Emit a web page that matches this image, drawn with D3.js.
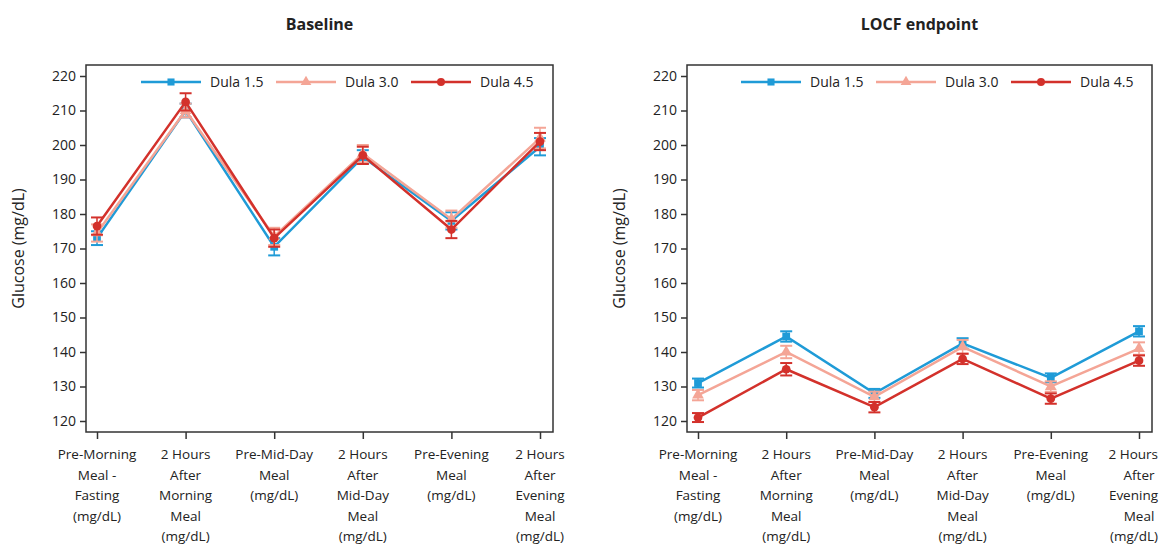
<!DOCTYPE html>
<html>
<head>
<meta charset="utf-8">
<script src="https://cdn.jsdelivr.net/npm/d3@7"></script>
<style>
  body { margin: 0; background: #fff; }
  text { font-family: "Open Sans", "Noto Sans", sans-serif; fill: #222; }
</style>
</head>
<body>
<div id="chart"></div>
<script>
// categories on the x axis
var categories = [
    "Pre-Morning|Meal -|Fasting|(mg/dL)",
    "2 Hours|After|Morning|Meal|(mg/dL)",
    "Pre-Mid-Day|Meal|(mg/dL)",
    "2 Hours|After|Mid-Day|Meal|(mg/dL)",
    "Pre-Evening|Meal|(mg/dL)",
    "2 Hours|After|Evening|Meal|(mg/dL)"
];
var yTicks = [120, 130, 140, 150, 160, 170, 180, 190, 200, 210, 220];
var seriesNames = ["Dula 1.5", "Dula 3.0", "Dula 4.5"];
var seriesColors = ["#1f9bd7", "#f4a596", "#d3312b"];
var seriesShapes = [d3.symbolSquare, d3.symbolTriangle, d3.symbolCircle];

// Baseline means and error (+/-)
var base15 = [173, 210, 170.5, 196.5, 178, 199.5];
var base15Err = [2, 2, 2.5, 2, 2.5, 2.5];
var base30 = [174.5, 210, 173.5, 197.5, 178.5, 202];
var base30Err = [2.5, 2, 2.5, 2.5, 2.5, 3];
var base45 = [176.5, 212.5, 173, 197, 175.5, 201];
var base45Err = [2.5, 2.5, 2.5, 2.5, 2.5, 2.5];

// LOCF endpoint means and error (+/-)
var locf15 = [131, 144.5, 128, 142.5, 132.5, 146];
var locf15Err = [1.3, 1.5, 1.3, 1.5, 1.3, 1.5];
var locf30 = [127.5, 140, 127, 141.5, 130, 141];
var locf30Err = [1.5, 1.8, 1.5, 2, 1.5, 1.8];
var locf45 = [121, 135, 124, 138, 126.5, 137.5];
var locf45Err = [1.3, 1.8, 1.5, 1.5, 1.5, 1.5];

var width = 1160, height = 547;
var svg = d3.select("#chart").append("svg")
    .attr("width", width)
    .attr("height", height);

function drawPanel(box, title, means, errs) {
    // x scale maps category index to tick position
    var x = d3.scalePoint()
        .domain(d3.range(categories.length))
        .range([box.left + 11, box.right - 13]);
    var y = d3.scaleLinear()
        .domain([120, 220])
        .range([421, 76]);

    var g = svg.append("g");

    // title
    g.append("text")
        .attr("x", (box.left + box.right) / 2)
        .attr("y", 30)
        .attr("text-anchor", "middle")
        .style("font-size", "16px")
        .style("font-weight", "bold")
        .text(title);

    // frame
    g.append("rect")
        .attr("x", box.left)
        .attr("y", box.top)
        .attr("width", box.right - box.left)
        .attr("height", box.bottom - box.top)
        .attr("fill", "none")
        .attr("stroke", "#333")
        .attr("stroke-width", 1.5);

    // y axis
    var yAxis = g.append("g")
        .attr("transform", "translate(" + box.left + ",0)")
        .call(d3.axisLeft(y).tickValues(yTicks).tickSize(6).tickPadding(4));
    yAxis.select(".domain").remove();
    yAxis.selectAll("line").attr("stroke", "#333").attr("stroke-width", 1.5);
    yAxis.selectAll("text").style("font-size", "14px").attr("fill", "#222");

    // y label
    g.append("text")
        .attr("transform", "translate(" + (box.left - 62) + "," + ((box.top + box.bottom) / 2) + ") rotate(-90)")
        .attr("text-anchor", "middle")
        .style("font-size", "16px")
        .text("Glucose (mg/dL)");

    // x axis
    var xAxis = g.append("g")
        .attr("transform", "translate(0," + box.bottom + ")")
        .call(d3.axisBottom(x).tickSize(7).tickFormat(""));
    xAxis.select(".domain").remove();
    xAxis.selectAll("line").attr("stroke", "#333").attr("stroke-width", 1.5);

    // multi-line category labels
    categories.forEach(function (c, i) {
        var t = g.append("text")
            .attr("text-anchor", "middle")
            .style("font-size", "13.5px");
        c.split("|").forEach(function (line, j) {
            var ts = t.append("tspan")
                .attr("x", x(i))
                .attr("y", box.bottom + 27 + j * 20.5)
                .text(line);
            // keep the label inside the page at the right edge
            var half = ts.node().getComputedTextLength() / 2;
            if (x(i) + half > width - 2) ts.attr("x", width - 2 - half);
        });
    });

    // series lines, error bars and markers
    var line = d3.line()
        .x(function (d, i) { return x(i); })
        .y(function (d) { return y(d); });

    means.forEach(function (vals, s) {
        var col = seriesColors[s];
        var sg = g.append("g");
        sg.append("path")
            .datum(vals)
            .attr("fill", "none")
            .attr("stroke", col)
            .attr("stroke-width", 2.5)
            .attr("d", line);

        vals.forEach(function (v, i) {
            var e = errs[s][i];
            var cx = x(i);
            sg.append("line")
                .attr("x1", cx).attr("x2", cx)
                .attr("y1", y(v - e)).attr("y2", y(v + e))
                .attr("stroke", col).attr("stroke-width", 1.5);
            [v - e, v + e].forEach(function (w) {
                sg.append("line")
                    .attr("x1", cx - 6).attr("x2", cx + 6)
                    .attr("y1", y(w)).attr("y2", y(w))
                    .attr("stroke", col).attr("stroke-width", 2);
            });
            sg.append("path")
                .attr("transform", "translate(" + cx + "," + y(v) + ")")
                .attr("d", d3.symbol().type(seriesShapes[s]).size(60)())
                .attr("fill", col);
        });
    });

    // legend
    var lg = g.append("g")
        .attr("transform", "translate(" + box.legendX + "," + (box.top + 17) + ")");
    seriesNames.forEach(function (name, s) {
        var off = s * 135;
        lg.append("line")
            .attr("x1", off).attr("x2", off + 60)
            .attr("y1", 0).attr("y2", 0)
            .attr("stroke", seriesColors[s])
            .attr("stroke-width", 2.5);
        lg.append("path")
            .attr("transform", "translate(" + (off + 30) + ",0)")
            .attr("d", d3.symbol().type(seriesShapes[s]).size(50)())
            .attr("fill", seriesColors[s]);
        lg.append("text")
            .attr("x", off + 69)
            .attr("y", 5)
            .style("font-size", "14px")
            .text(name);
    });
}

drawPanel({ left: 86, right: 553, top: 65, bottom: 432, legendX: 141 },
    "Baseline", [base15, base30, base45], [base15Err, base30Err, base45Err]);
drawPanel({ left: 687, right: 1152, top: 65, bottom: 432, legendX: 741 },
    "LOCF endpoint", [locf15, locf30, locf45], [locf15Err, locf30Err, locf45Err]);
</script>
</body>
</html>
